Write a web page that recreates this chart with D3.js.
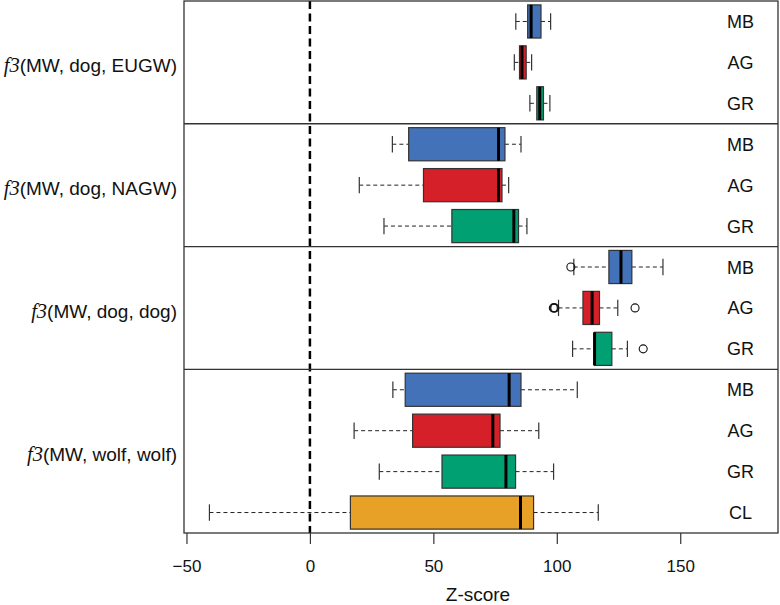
<!DOCTYPE html>
<html>
<head>
<meta charset="utf-8">
<script src="https://cdn.jsdelivr.net/npm/d3@7/dist/d3.min.js"></script>
<style>
  html, body { margin: 0; padding: 0; background: #fff; }
  svg { display: block; }
  text { font-family: "Liberation Sans", Arial, Helvetica, sans-serif; fill: #111; }
</style>
</head>
<body>
<svg id="chart" width="780" height="605"></svg>
<script>
// ---------------- data ----------------
const panelArgs   = ["MW, dog, EUGW", "MW, dog, NAGW", "MW, dog, dog", "MW, wolf, wolf"];
const rowPanel    = [0, 0, 0, 1, 1, 1, 2, 2, 2, 3, 3, 3, 3];
const rowLabels   = ["MB", "AG", "GR", "MB", "AG", "GR", "MB", "AG", "GR", "MB", "AG", "GR", "CL"];
const whiskerLow  = [83.4, 82.8, 89.1, 33.4, 20.0, 30.0, 106.9, 100.7, 106.4, 33.6, 17.9, 28.1, -40.7];
const q1          = [88.2, 84.9, 91.9, 40.0, 46.0, 57.5, 121.1, 110.6, 115.3, 38.6, 41.6, 53.5, 16.4];
const median      = [89.6, 85.9, 93.1, 76.4, 76.4, 82.6, 126.0, 114.3, 115.3, 80.7, 74.1, 79.4, 85.3];
const q3          = [93.6, 87.6, 94.6, 79.0, 77.8, 84.5, 130.4, 117.3, 122.3, 85.5, 77.0, 83.3, 90.6];
const whiskerHigh = [97.5, 89.8, 97.2, 85.5, 80.5, 87.9, 143.0, 124.7, 128.6, 108.3, 92.7, 98.7, 116.8];
const outliers    = [[], [], [], [], [], [], [105.7], [98.6, 98.9, 99.2, 131.7], [135.0], [], [], [], []];
const popColors   = { MB: "#4372B8", AG: "#D52029", GR: "#00A073", CL: "#E6A126" };
const xTicks      = [-50, 0, 50, 100, 150];
const xLabel      = "Z-score";

// ---------------- layout ----------------
const svg = d3.select("#chart");
const plotL = 184, plotR = 778, plotT = 1, plotB = 533;

const x = d3.scaleLinear().domain([-51, 189.6]).range([plotL, plotR]);
const y = d3.scalePoint().domain(d3.range(rowLabels.length)).range([plotT, plotB]).padding(0.5);
const step = y.step();
const boxHalf = step * 0.405;
const capHalf = step * 0.2;

const g = svg.append("g");

// rows
const rows = g.selectAll("g.row").data(rowLabels.map((lab, i) => ({
  i, lab, wl: whiskerLow[i], q1: q1[i], med: median[i], q3: q3[i], wh: whiskerHigh[i], out: outliers[i]
}))).join("g").attr("class", "row");

// whiskers (dashed)
rows.append("line")
  .attr("x1", d => x(d.wl)).attr("x2", d => x(d.q1))
  .attr("y1", d => y(d.i)).attr("y2", d => y(d.i))
  .attr("stroke", "#222").attr("stroke-width", 1).attr("stroke-dasharray", "4,3");
rows.append("line")
  .attr("x1", d => x(d.q3)).attr("x2", d => x(d.wh))
  .attr("y1", d => y(d.i)).attr("y2", d => y(d.i))
  .attr("stroke", "#222").attr("stroke-width", 1).attr("stroke-dasharray", "4,3");
// caps
rows.append("line")
  .attr("x1", d => x(d.wl)).attr("x2", d => x(d.wl))
  .attr("y1", d => y(d.i) - capHalf).attr("y2", d => y(d.i) + capHalf)
  .attr("stroke", "#333").attr("stroke-width", 1.2);
rows.append("line")
  .attr("x1", d => x(d.wh)).attr("x2", d => x(d.wh))
  .attr("y1", d => y(d.i) - capHalf).attr("y2", d => y(d.i) + capHalf)
  .attr("stroke", "#333").attr("stroke-width", 1.2);
// boxes
rows.append("rect")
  .attr("x", d => x(d.q1)).attr("width", d => x(d.q3) - x(d.q1))
  .attr("y", d => y(d.i) - boxHalf).attr("height", boxHalf * 2)
  .attr("fill", d => popColors[d.lab]).attr("stroke", "#333").attr("stroke-width", 1.2);
// medians
rows.append("line")
  .attr("x1", d => x(d.med)).attr("x2", d => x(d.med))
  .attr("y1", d => y(d.i) - boxHalf).attr("y2", d => y(d.i) + boxHalf)
  .attr("stroke", "#000").attr("stroke-width", 3);
// outliers
rows.each(function(d) {
  d3.select(this).selectAll("circle").data(d.out).join("circle")
    .attr("cx", v => x(v)).attr("cy", y(d.i)).attr("r", 4)
    .attr("fill", "none").attr("stroke", "#111").attr("stroke-width", 1.1);
});
// row labels at right
rows.append("text")
  .attr("x", 740.5).attr("y", d => y(d.i) + 6.5)
  .attr("text-anchor", "middle").attr("font-size", 18)
  .text(d => d.lab);

// zero reference line
g.append("line")
  .attr("x1", x(0)).attr("x2", x(0)).attr("y1", plotT).attr("y2", plotB)
  .attr("stroke", "#000").attr("stroke-width", 2.5).attr("stroke-dasharray", "8,4.5");

// panel separators
const panelIdx = d3.range(panelArgs.length);
const panelRows = panelIdx.map(p => rowPanel.map((rp, i) => rp === p ? i : -1).filter(i => i >= 0));
panelRows.slice(1).forEach(rs => {
  const yy = y(rs[0]) - step / 2;
  g.append("line").attr("x1", plotL).attr("x2", plotR).attr("y1", yy).attr("y2", yy)
    .attr("stroke", "#333").attr("stroke-width", 1.3);
});

// plot border
g.append("rect").attr("x", plotL).attr("y", plotT).attr("width", plotR - plotL).attr("height", plotB - plotT)
  .attr("fill", "none").attr("stroke", "#333").attr("stroke-width", 1.3);

// panel labels at left
panelRows.forEach((rs, p) => {
  const yc = d3.mean(rs, i => y(i));
  const t = g.append("text").attr("x", 177).attr("y", yc + 10).attr("text-anchor", "end").attr("font-size", 19);
  t.append("tspan").attr("font-family", "'Liberation Serif', 'Times New Roman', serif")
    .attr("font-style", "italic").attr("font-size", 20.5).text("f3");
  t.append("tspan").text("(" + panelArgs[p] + ")");
});

// x axis
const axis = d3.axisBottom(x).tickValues(xTicks).tickSize(11).tickPadding(15.5);
const ag = svg.append("g").attr("transform", `translate(0,${plotB})`).call(axis);
ag.select(".domain").remove();
ag.selectAll(".tick line").attr("stroke", "#333").attr("stroke-width", 1.2);
ag.selectAll(".tick text").attr("font-size", 17).attr("fill", "#111")
  .attr("font-family", "'Liberation Sans', Arial, Helvetica, sans-serif");

svg.append("text").attr("x", 478).attr("y", 601).attr("text-anchor", "middle")
  .attr("font-size", 19).text(xLabel);
</script>
</body>
</html>
